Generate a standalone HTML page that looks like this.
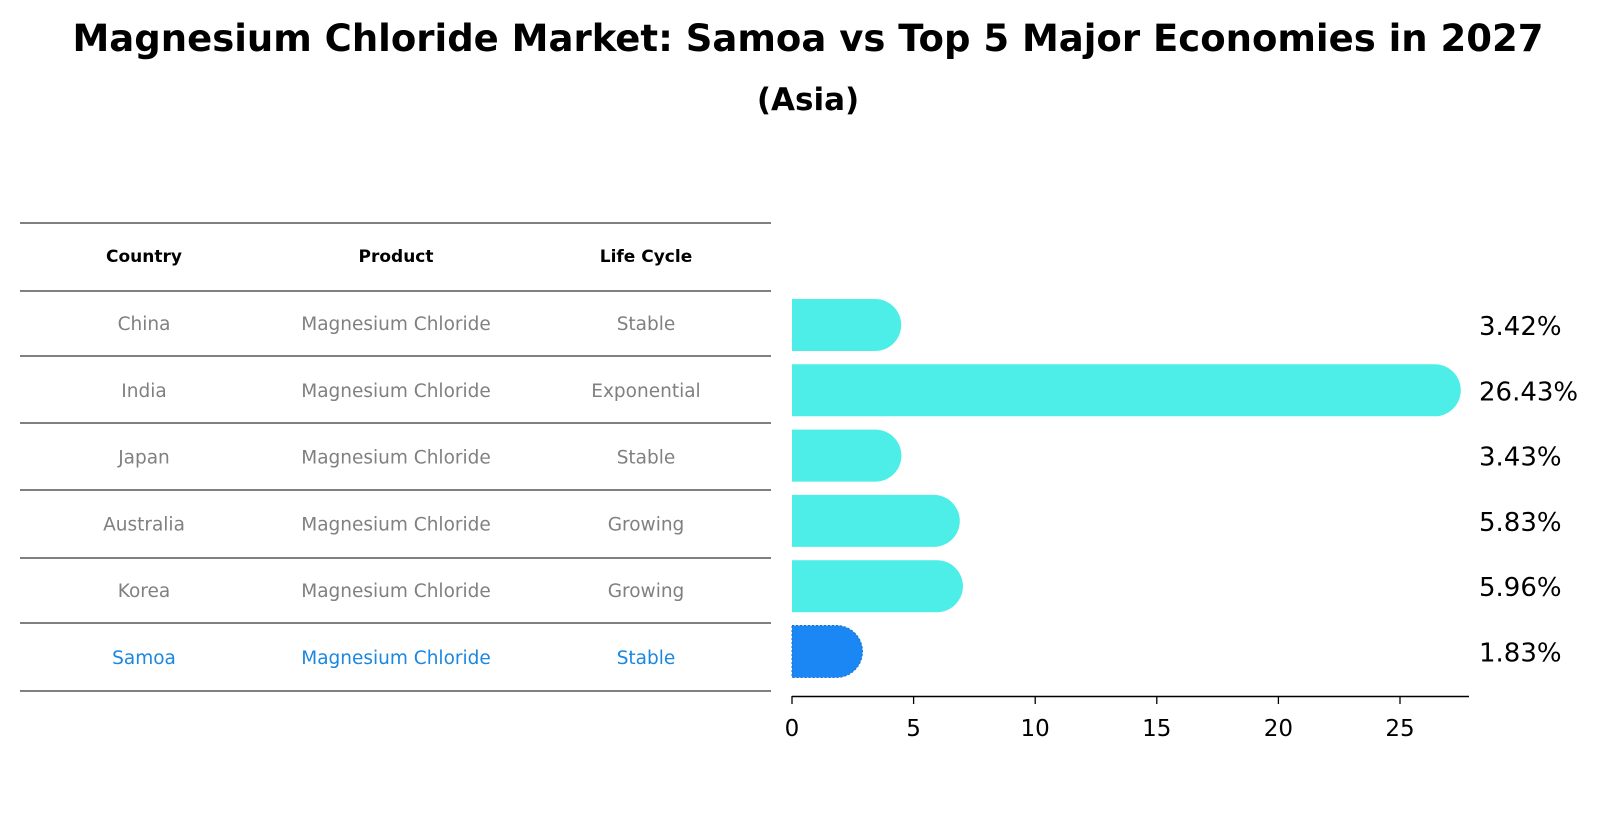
<!DOCTYPE html>
<html><head><meta charset="utf-8"><style>
body{margin:0;background:#fff;font-family:"Liberation Sans","DejaVu Sans",sans-serif;}
</style></head><body>
<svg id="chart" width="1604" height="823" viewBox="0 0 1604 823" xmlns="http://www.w3.org/2000/svg" font-family="DejaVu Sans, Liberation Sans, sans-serif">
<text x="808" y="51" font-size="37" font-weight="bold" text-anchor="middle">Magnesium Chloride Market: Samoa vs Top 5 Major Economies in 2027</text>
<text x="808" y="110" font-size="31" font-weight="bold" text-anchor="middle">(Asia)</text>
<g id="table"></g>
<g id="bars"></g>
<g id="axis"></g>
</svg>
<script>
const countries = ["China","India","Japan","Australia","Korea","Samoa"];
const products = ["Magnesium Chloride","Magnesium Chloride","Magnesium Chloride","Magnesium Chloride","Magnesium Chloride","Magnesium Chloride"];
const lifeCycles = ["Stable","Exponential","Stable","Growing","Growing","Stable"];
const values = [3.42,26.43,3.43,5.83,5.96,1.83];
const valueLabels = ["3.42%","26.43%","3.43%","5.83%","5.96%","1.83%"];
const xTicks = [0,5,10,15,20,25];

const NS="http://www.w3.org/2000/svg";
function mk(tag,attrs,parent){const e=document.createElementNS(NS,tag);for(const k in attrs)e.setAttribute(k,attrs[k]);parent.appendChild(e);return e;}
const x = v => 792 + v*24.32;
const rowY = i => 325 + i*65.3;
const barH = 52;

const table=document.getElementById('table');
const lineYs=[223,291,356,423,490,558,623,691];
lineYs.forEach((ly)=>{const l=mk('line',{x1:20,x2:771,y1:ly,y2:ly,stroke:'#000','stroke-width':1},table);

});
const colX=[144,396,646];
["Country","Product","Life Cycle"].forEach((h,j)=>{const t=mk('text',{x:colX[j],y:262,'font-size':17,'font-weight':'bold','text-anchor':'middle'},table);t.textContent=h;

});
countries.forEach((c,i)=>{
  const col = c==="Samoa" ? '#1a87e0' : '#808080';
  const yy = 330 + i*66.8;
  [c,products[i],lifeCycles[i]].forEach((s,j)=>{
    const t=mk('text',{x:colX[j],y:yy,'font-size':18.5,fill:col,'text-anchor':'middle'},table);t.textContent=s;
    
    
  });
});

const bars=document.getElementById('bars');
values.forEach((v,i)=>{
  const isS = countries[i]==="Samoa";
  const cy=rowY(i), r=barH/2, x0=x(0), x1=x(v);
  const d=`M${x0},${cy-r} L${x1},${cy-r} A${r},${r} 0 0 1 ${x1},${cy+r} L${x0},${cy+r} Z`;
  const p=mk('path',{d:d,fill:isS?'#1a87f5':'#4deee8'},bars);
  if(isS){p.setAttribute('stroke','#1a70d0');p.setAttribute('stroke-dasharray','2,2');p.setAttribute('stroke-width','1');}
  
  
  const t=mk('text',{x:1479,y:cy+10,'font-size':26},bars);t.textContent=valueLabels[i];
  
  
});

const axis=document.getElementById('axis');
const al=mk('line',{x1:792,x2:1469,y1:696.5,y2:696.5,stroke:'#000','stroke-width':1.5},axis);


xTicks.forEach(tv=>{
  const l=mk('line',{x1:x(tv),x2:x(tv),y1:696,y2:704,stroke:'#000','stroke-width':1.3},axis);
  
  
  const t=mk('text',{x:x(tv),y:736,'font-size':23,'text-anchor':'middle'},axis);t.textContent=tv;
  
  
});
</script>
</body></html>
